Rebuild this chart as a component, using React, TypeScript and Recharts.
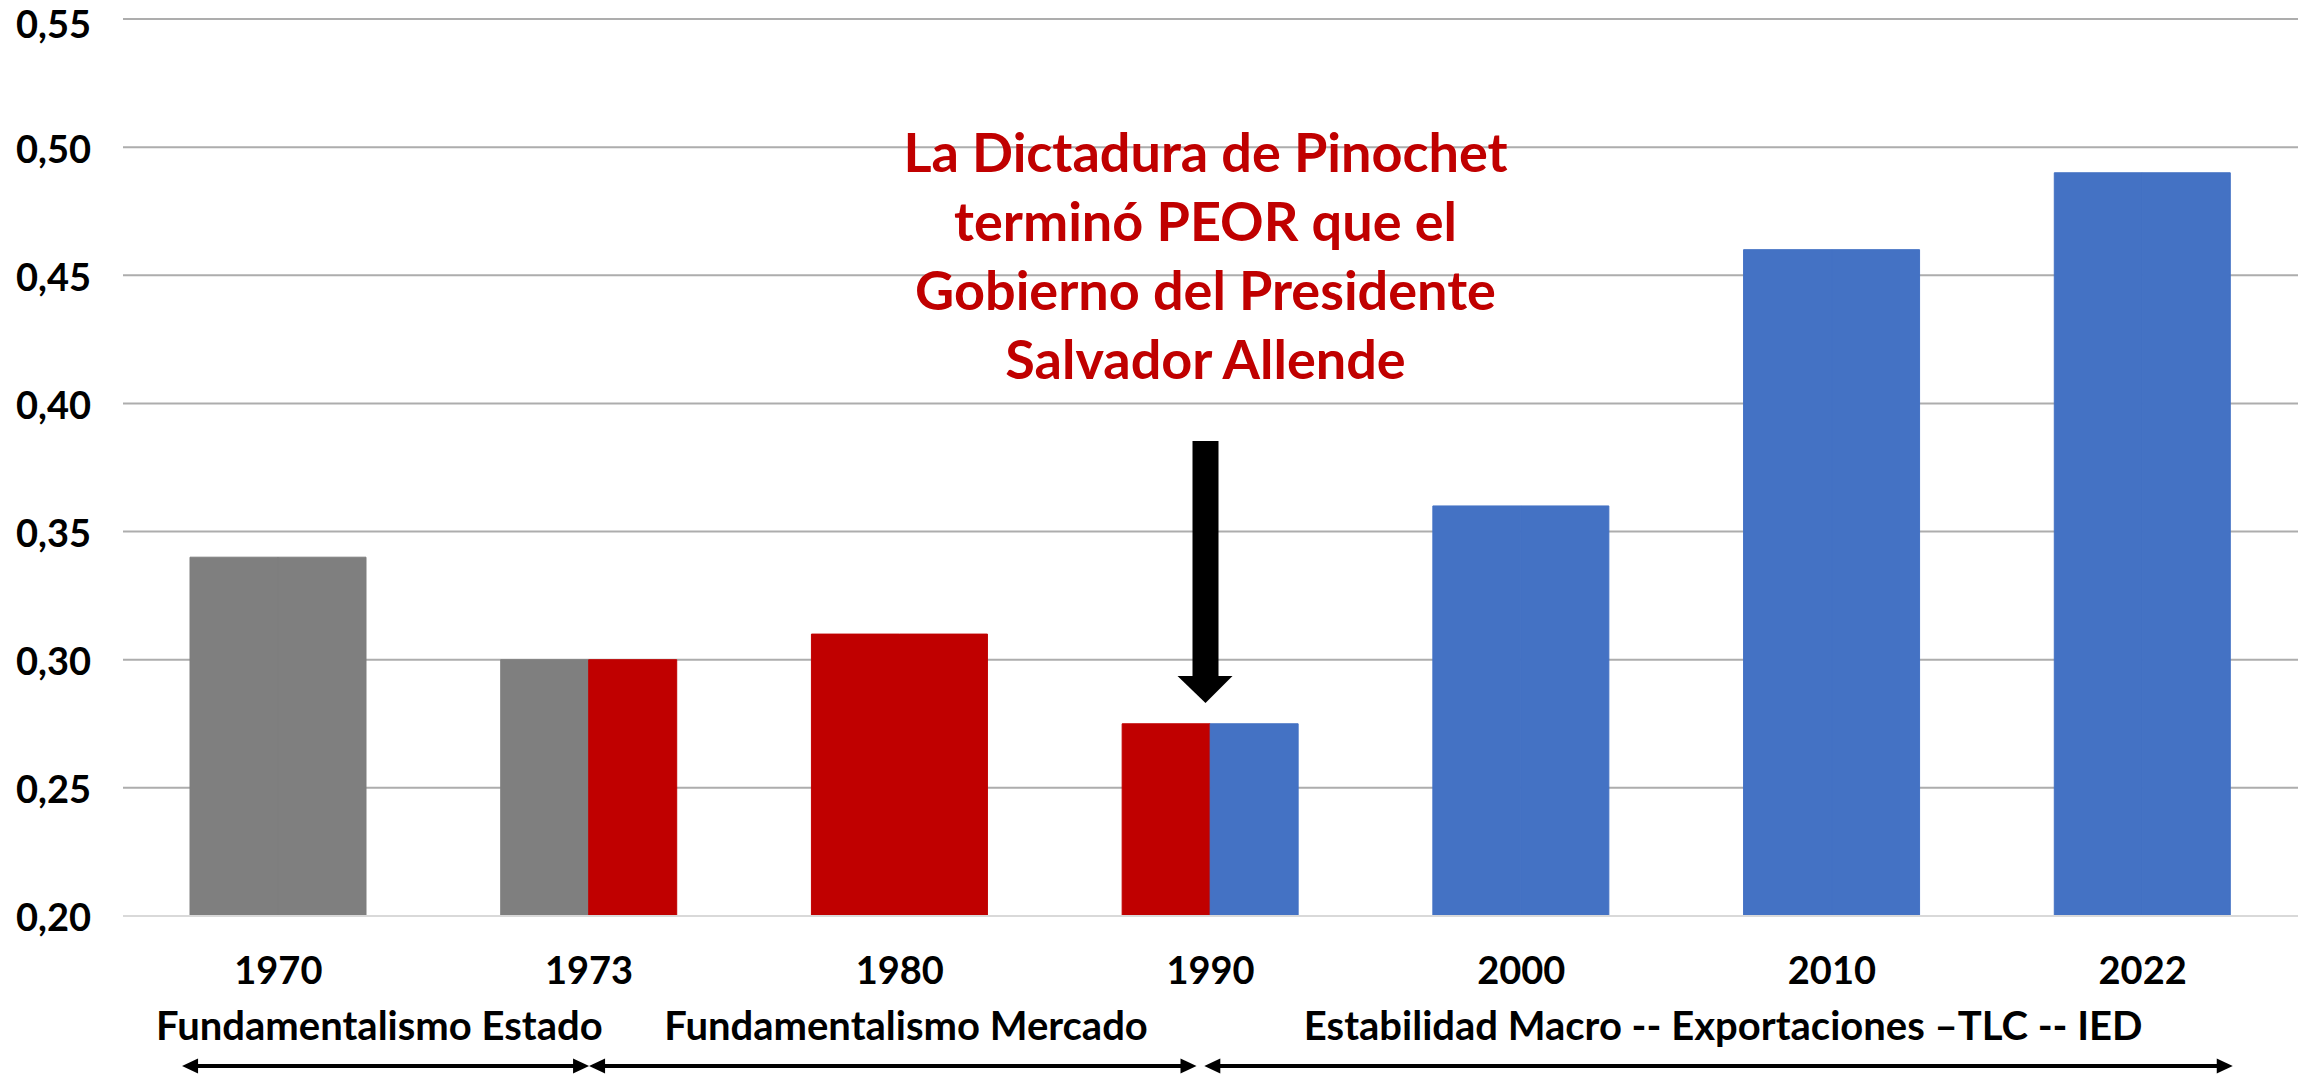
import { BarChart, Bar, XAxis, YAxis, CartesianGrid, Cell } from 'recharts';

const categories = ['1970', '1973', '1980', '1990', '2000', '2010', '2022'];
const giniValues = [0.34, 0.3, 0.31, 0.275, 0.36, 0.46, 0.49];
// each year is drawn as two halves so the transition years can be split in colour
const leftColors = ['#7F7F7F', '#7F7F7F', '#C00000', '#C00000', '#4472C4', '#4472C4', '#4472C4'];
const rightColors = ['#7F7F7F', '#C00000', '#C00000', '#4472C4', '#4472C4', '#4472C4', '#4472C4'];
const yTicks = [0.2, 0.25, 0.3, 0.35, 0.4, 0.45, 0.5, 0.55];
const periodLabels = [
  'Fundamentalismo Estado',
  'Fundamentalismo Mercado',
  'Estabilidad Macro -- Exportaciones –TLC -- IED',
];
const noteLines = [
  'La Dictadura de Pinochet',
  'terminó PEOR que el',
  'Gobierno del Presidente',
  'Salvador Allende',
];

const data = categories.map((year, i) => ({
  year,
  left: giniValues[i],
  right: giniValues[i],
}));

const W = 2298;
const H = 1077;
const PLOT_LEFT = 123;
const PLOT_TOP = 19;
const PLOT_BOTTOM = 916;
const BAND = (W - PLOT_LEFT) / categories.length;
const FONT = 'Lato, "Open Sans", sans-serif';

// x of a position measured in categories (0 = centre of first year)
const catX = (c: number) => PLOT_LEFT + BAND * (c + 0.5);

// period arrows, in category units
const periodSpans = [
  [-0.31, 1.0],
  [1.0, 2.955],
  [2.98, 6.29],
];
const periodCenters = [0.325, 2.02, 4.65];

function DoubleArrow({ x1, x2, y }: { x1: number; x2: number; y: number }) {
  const len = 16;
  const half = 7.5;
  return (
    <g>
      <line x1={x1 + len - 2} x2={x2 - len + 2} y1={y} y2={y} stroke="#000" strokeWidth={4} />
      <polygon points={`${x1},${y} ${x1 + len},${y - half} ${x1 + len},${y + half}`} fill="#000" />
      <polygon points={`${x2},${y} ${x2 - len},${y - half} ${x2 - len},${y + half}`} fill="#000" />
    </g>
  );
}

export default function App() {
  const arrowX = catX(3) - 5;
  return (
    <div style={{ position: 'relative', width: W, height: H, background: '#fff' }}>
      <style>{'body{margin:0}'}</style>
      <BarChart
        width={W}
        height={H}
        data={data}
        margin={{ top: PLOT_TOP, right: 0, bottom: 0, left: 0 }}
        barGap={0}
        barSize={88}
      >
        <CartesianGrid vertical={false} stroke="#ADADAD" strokeWidth={2} />
        <YAxis
          width={PLOT_LEFT}
          domain={[0.2, 0.55]}
          ticks={yTicks}
          axisLine={false}
          tickLine={false}
          tickSize={0}
          tickMargin={32}
          tickFormatter={(v: number) => v.toFixed(2).replace('.', ',')}
          tick={{ fill: '#000', fontSize: 38, fontWeight: 700, fontFamily: FONT, dy: 2 }}
        />
        <XAxis
          dataKey="year"
          height={H - PLOT_BOTTOM}
          axisLine={{ stroke: '#D9D9D9', strokeWidth: 2 }}
          tickLine={false}
          tickSize={0}
          tickMargin={41}
          tick={{ fill: '#000', fontSize: 38, fontWeight: 700, fontFamily: FONT }}
        />
        <Bar dataKey="left" isAnimationActive={false}>
          {data.map((d, i) => (
            <Cell key={d.year} fill={leftColors[i]} stroke={leftColors[i]} strokeWidth={1} />
          ))}
        </Bar>
        <Bar dataKey="right" isAnimationActive={false}>
          {data.map((d, i) => (
            <Cell key={d.year} fill={rightColors[i]} stroke={rightColors[i]} strokeWidth={1} />
          ))}
        </Bar>
      </BarChart>
      <svg
        width={W}
        height={H}
        style={{ position: 'absolute', left: 0, top: 0, pointerEvents: 'none' }}
      >
        {noteLines.map((t, i) => (
          <text
            key={t}
            x={arrowX}
            y={172 + i * 69}
            textAnchor="middle"
            fill="#C00000"
            fontFamily={FONT}
            fontWeight={700}
            fontSize={54}
          >
            {t}
          </text>
        ))}
        <rect x={arrowX - 13} y={441} width={26} height={236} fill="#000" />
        <polygon
          points={`${arrowX - 28},676 ${arrowX + 27},676 ${arrowX},703`}
          fill="#000"
        />
        {periodLabels.map((t, i) => (
          <text
            key={t}
            x={catX(periodCenters[i])}
            y={1040}
            textAnchor="middle"
            fill="#000"
            fontFamily={FONT}
            fontWeight={700}
            fontSize={40}
          >
            {t}
          </text>
        ))}
        {periodSpans.map(([a, b], i) => (
          <DoubleArrow key={i} x1={catX(a)} x2={catX(b)} y={1066} />
        ))}
      </svg>
    </div>
  );
}
